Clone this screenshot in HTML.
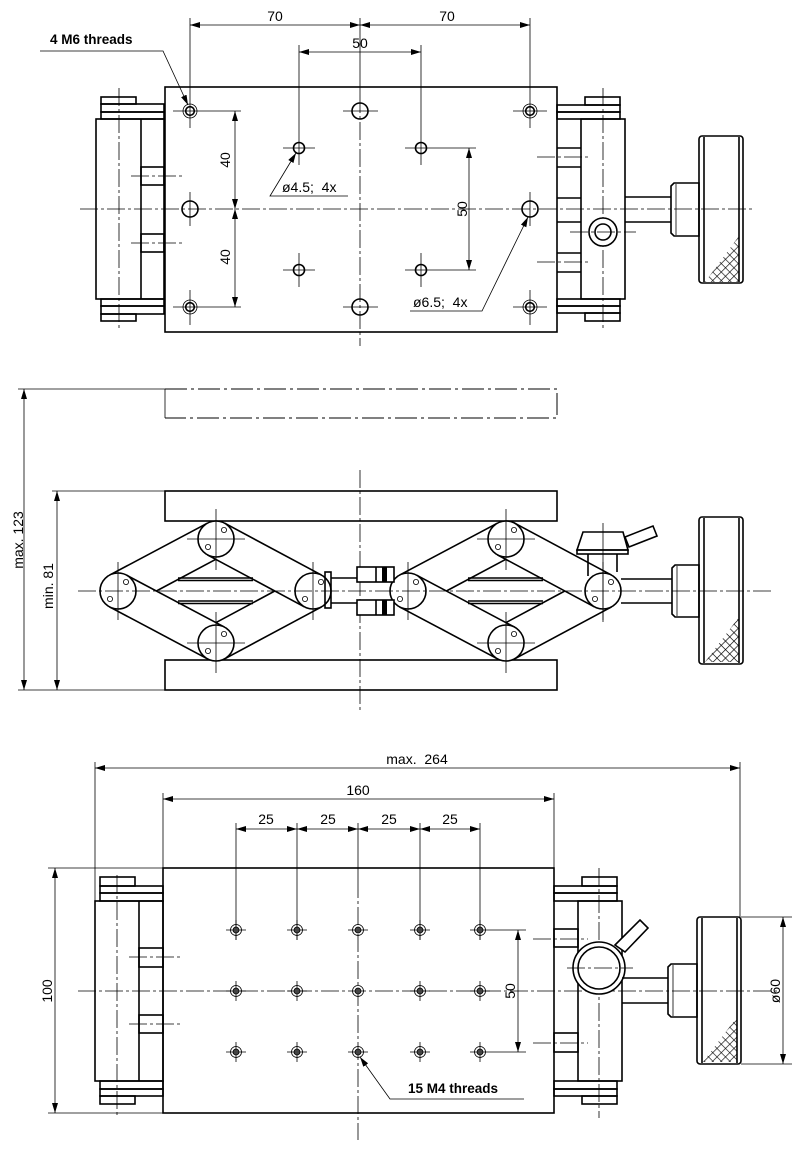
<!DOCTYPE html>
<html><head><meta charset="utf-8"><style>
html,body{margin:0;padding:0;background:#fff;}
svg{display:block;}
.o{stroke:#000;stroke-width:1.6;fill:none;}
.w{stroke:#000;stroke-width:1.6;fill:#fff;}
.t{stroke:#000;stroke-width:0.8;fill:none;}
.c{stroke:#000;stroke-width:0.8;fill:none;stroke-dasharray:18 3 3 3;}
.p{stroke:#000;stroke-width:1;fill:none;stroke-dasharray:22 4 3 4;}
.d{stroke:#000;stroke-width:0.8;fill:none;marker-start:url(#a);marker-end:url(#a);}
.l{stroke:#000;stroke-width:0.8;fill:none;marker-end:url(#a);}
text{font-family:"Liberation Sans",sans-serif;font-size:14px;fill:#000;}
.b{font-weight:bold;font-size:13.5px;}
</style></head><body>
<svg width="800" height="1150" viewBox="0 0 800 1150" xmlns="http://www.w3.org/2000/svg">
<defs>
<marker id="a" viewBox="0 0 10 6" refX="10" refY="3" markerWidth="10" markerHeight="6" markerUnits="userSpaceOnUse" orient="auto-start-reverse"><path d="M0,0L10,3L0,6z" fill="#000"/></marker>
<pattern id="k" width="6" height="6" patternUnits="userSpaceOnUse" patternTransform="rotate(45)"><path d="M0,0V6M0,0H6" stroke="#000" stroke-width="1.3"/></pattern>
<g id="sc">
<line class="o" x1="109.6" y1="575.1" x2="207.6" y2="523.1"/>
<line class="o" x1="224.5" y1="523.1" x2="321.5" y2="575.1"/>
<line class="o" x1="109.6" y1="606.9" x2="207.6" y2="658.9"/>
<line class="o" x1="224.5" y1="658.9" x2="321.5" y2="606.9"/>
<line class="o" x1="126.4" y1="575.1" x2="224.4" y2="627.1"/>
<line class="o" x1="207.5" y1="554.9" x2="304.5" y2="606.9"/>
<line class="o" x1="156.4" y1="591" x2="215.8" y2="559.3"/>
<line class="o" x1="215.8" y1="622.7" x2="274.8" y2="591"/>
<line class="o" x1="178" y1="578" x2="253" y2="578"/>
<line class="o" x1="178" y1="580.5" x2="253" y2="580.5"/>
<line class="o" x1="178" y1="601" x2="253" y2="601"/>
<line class="o" x1="178" y1="603.5" x2="253" y2="603.5"/>
<circle class="w" cx="118" cy="591" r="18"/>
<circle class="w" cx="216" cy="539" r="18"/>
<circle class="w" cx="216" cy="643" r="18"/>
<circle class="w" cx="313" cy="591" r="18"/>
<circle class="t" cx="126" cy="582" r="2.6"/><circle class="t" cx="110" cy="599" r="2.6"/>
<circle class="t" cx="224" cy="530" r="2.6"/><circle class="t" cx="208" cy="547" r="2.6"/>
<circle class="t" cx="224" cy="634" r="2.6"/><circle class="t" cx="208" cy="651" r="2.6"/>
<circle class="t" cx="321" cy="582" r="2.6"/><circle class="t" cx="305" cy="599" r="2.6"/>
<line class="t" x1="118" y1="562" x2="118" y2="620"/>
<line class="t" x1="313" y1="562" x2="313" y2="620"/>
<line class="t" x1="216" y1="509" x2="216" y2="570"/>
<line class="t" x1="187" y1="539" x2="245" y2="539"/>
<line class="t" x1="216" y1="612" x2="216" y2="673"/>
<line class="t" x1="187" y1="643" x2="245" y2="643"/>
</g>
</defs>

<!-- ================= TOP VIEW ================= -->
<rect class="o" x="165" y="87" width="392" height="245"/>
<line class="c" x1="80" y1="209" x2="752" y2="209"/>
<line class="t" x1="360" y1="18" x2="360" y2="95"/>
<line class="c" x1="360" y1="95" x2="360" y2="346"/>
<line class="t" x1="190" y1="18" x2="190" y2="128"/>
<line class="t" x1="530" y1="18" x2="530" y2="128"/>
<line class="t" x1="299" y1="45" x2="299" y2="165"/>
<line class="t" x1="421" y1="45" x2="421" y2="165"/>
<line class="t" x1="190" y1="290" x2="190" y2="325"/>
<line class="t" x1="530" y1="290" x2="530" y2="325"/>
<line class="t" x1="299" y1="253" x2="299" y2="287"/>
<line class="t" x1="421" y1="253" x2="421" y2="287"/>
<line class="t" x1="190" y1="192" x2="190" y2="226"/>
<line class="t" x1="530" y1="192" x2="530" y2="226"/>
<line class="t" x1="173" y1="111" x2="241" y2="111"/>
<line class="t" x1="343" y1="111" x2="378" y2="111"/>
<line class="t" x1="513" y1="111" x2="547" y2="111"/>
<line class="t" x1="173" y1="307" x2="241" y2="307"/>
<line class="t" x1="343" y1="307" x2="378" y2="307"/>
<line class="t" x1="513" y1="307" x2="547" y2="307"/>
<line class="t" x1="283" y1="148" x2="315" y2="148"/>
<line class="t" x1="405" y1="148" x2="476" y2="148"/>
<line class="t" x1="283" y1="270" x2="315" y2="270"/>
<line class="t" x1="405" y1="270" x2="476" y2="270"/>
<circle class="t" cx="190" cy="111" r="7"/><circle class="o" cx="190" cy="111" r="4.3"/>
<circle class="t" cx="530" cy="111" r="7"/><circle class="o" cx="530" cy="111" r="4.3"/>
<circle class="t" cx="190" cy="307" r="7"/><circle class="o" cx="190" cy="307" r="4.3"/>
<circle class="t" cx="530" cy="307" r="7"/><circle class="o" cx="530" cy="307" r="4.3"/>
<circle class="o" cx="360" cy="111" r="8"/>
<circle class="o" cx="360" cy="307" r="8"/>
<circle class="o" cx="190" cy="209" r="8"/>
<circle class="o" cx="530" cy="209" r="8"/>
<circle class="o" cx="299" cy="148" r="5.5"/>
<circle class="o" cx="421" cy="148" r="5.5"/>
<circle class="o" cx="299" cy="270" r="5.5"/>
<circle class="o" cx="421" cy="270" r="5.5"/>
<line class="d" x1="190" y1="25" x2="360" y2="25"/>
<line class="d" x1="360" y1="25" x2="530" y2="25"/>
<line class="d" x1="299" y1="52" x2="421" y2="52"/>
<line class="d" x1="235" y1="111" x2="235" y2="209"/>
<line class="d" x1="235" y1="209" x2="235" y2="307"/>
<line class="d" x1="469" y1="148" x2="469" y2="270"/>
<text x="275" y="21" text-anchor="middle">70</text>
<text x="447" y="21" text-anchor="middle">70</text>
<text x="360" y="48" text-anchor="middle">50</text>
<text transform="translate(230,160) rotate(-90)" text-anchor="middle">40</text>
<text transform="translate(230,257) rotate(-90)" text-anchor="middle">40</text>
<text transform="translate(467,209) rotate(-90)" text-anchor="middle">50</text>
<text class="b" x="50" y="44">4 M6 threads</text>
<polyline class="l" points="40,51 163,51 188,105"/>
<text x="282" y="192" xml:space="preserve">ø4.5;  4x</text>
<polyline class="l" points="348,196 270,196 296,153"/>
<text x="413" y="307" xml:space="preserve">ø6.5;  4x</text>
<polyline class="l" points="410,311 482,311 528,217"/>
<rect class="o" x="101" y="97" width="35" height="7"/>
<rect class="o" x="101" y="104" width="63" height="8"/>
<rect class="o" x="101" y="112" width="63" height="7"/>
<rect class="o" x="96" y="119" width="68" height="180"/>
<line class="o" x1="141" y1="119" x2="141" y2="299"/>
<rect class="o" x="141" y="167" width="23" height="18"/>
<rect class="o" x="141" y="234" width="23" height="18"/>
<rect class="o" x="101" y="299" width="63" height="7"/>
<rect class="o" x="101" y="306" width="63" height="8"/>
<rect class="o" x="101" y="314" width="35" height="7"/>
<line class="c" x1="119" y1="88" x2="119" y2="330"/>
<line class="c" x1="131" y1="176" x2="184" y2="176"/>
<line class="c" x1="131" y1="243" x2="184" y2="243"/>
<rect class="o" x="585" y="97" width="35" height="8"/>
<rect class="o" x="557" y="105" width="63" height="7"/>
<rect class="o" x="557" y="112" width="63" height="7"/>
<rect class="o" x="581" y="119" width="44" height="180"/>
<path class="o" d="M557,148H581M557,167H581M557,198H581M557,222H581M557,253H581M557,272H581"/>
<rect class="o" x="557" y="299" width="63" height="7"/>
<rect class="o" x="557" y="306" width="63" height="7"/>
<rect class="o" x="585" y="313" width="35" height="8"/>
<line class="c" x1="603" y1="88" x2="603" y2="330"/>
<line class="c" x1="537" y1="157" x2="590" y2="157"/>
<line class="c" x1="537" y1="262" x2="590" y2="262"/>
<circle class="w" cx="603" cy="232" r="14"/>
<circle class="o" cx="603" cy="232" r="8"/>
<line class="c" x1="570" y1="232" x2="636" y2="232"/>
<line class="o" x1="625" y1="197" x2="671" y2="197"/>
<line class="o" x1="625" y1="222" x2="671" y2="222"/>
<path class="o" d="M674,183H699V236H674L671,233V186Z"/>
<line class="t" x1="676" y1="184" x2="676" y2="235"/>
<rect class="o" x="699" y="136" width="44" height="147" rx="3"/>
<line class="o" x1="704" y1="137" x2="704" y2="282"/>
<line class="o" x1="739" y1="137" x2="739" y2="282"/>
<polygon points="705,282 739,282 739,236" fill="url(#k)"/>

<!-- ================= SIDE VIEW ================= -->
<line class="t" x1="18" y1="389" x2="165" y2="389"/>
<line class="t" x1="165" y1="389" x2="165" y2="418"/>
<path class="p" d="M165,389H557V418H165"/>
<rect class="o" x="165" y="491" width="392" height="30"/>
<rect class="o" x="165" y="660" width="392" height="30"/>
<line class="t" x1="52" y1="491" x2="165" y2="491"/>
<line class="t" x1="18" y1="690" x2="165" y2="690"/>
<line class="d" x1="24" y1="389" x2="24" y2="690"/>
<line class="d" x1="57" y1="491" x2="57" y2="690"/>
<text transform="translate(23,540) rotate(-90)" text-anchor="middle">max.  123</text>
<text transform="translate(53,586) rotate(-90)" text-anchor="middle">min.  81</text>
<line class="c" x1="360" y1="470" x2="360" y2="712"/>
<use href="#sc"/>
<use href="#sc" transform="translate(290,0)"/>
<rect class="o" x="325" y="572" width="6" height="36"/>
<line class="o" x1="331" y1="578" x2="357" y2="578"/>
<line class="o" x1="331" y1="603" x2="357" y2="603"/>
<rect class="w" x="357" y="567" width="37" height="15"/>
<rect class="w" x="357" y="600" width="37" height="15"/>
<rect x="382" y="567" width="5" height="15" fill="#000"/>
<rect x="382" y="600" width="5" height="15" fill="#000"/>
<line class="o" x1="376" y1="567" x2="376" y2="582"/>
<line class="o" x1="376" y1="600" x2="376" y2="615"/>
<line class="c" x1="78" y1="591" x2="772" y2="591"/>
<path class="o" d="M588,554V576M617,554V572"/>
<path class="w" d="M583,532H623L628,550H577Z"/>
<rect class="o" x="577" y="550" width="51" height="4"/>
<path class="w" d="M625,537L653,526L657,536L629,547Z"/>
<line class="t" x1="603" y1="523" x2="603" y2="622"/>
<line class="o" x1="621" y1="579" x2="672" y2="579"/>
<line class="o" x1="621" y1="603" x2="672" y2="603"/>
<path class="o" d="M675,565H699V617H675L672,614V568Z"/>
<line class="t" x1="677" y1="566" x2="677" y2="616"/>
<rect class="o" x="699" y="517" width="44" height="147" rx="3"/>
<line class="o" x1="704" y1="518" x2="704" y2="663"/>
<line class="o" x1="739" y1="518" x2="739" y2="663"/>
<polygon points="705,662 739,662 739,617" fill="url(#k)"/>

<!-- ================= BOTTOM VIEW ================= -->
<rect class="o" x="163" y="868" width="391" height="245"/>
<line class="c" x1="78" y1="991" x2="780" y2="991"/>
<line class="t" x1="358" y1="823" x2="358" y2="880"/>
<line class="c" x1="358" y1="880" x2="358" y2="1140"/>
<line class="t" x1="95" y1="762" x2="95" y2="901"/>
<line class="t" x1="740" y1="762" x2="740" y2="917"/>
<line class="t" x1="163" y1="793" x2="163" y2="868"/>
<line class="t" x1="554" y1="793" x2="554" y2="868"/>
<line class="t" x1="236" y1="823" x2="236" y2="940"/>
<line class="t" x1="297" y1="823" x2="297" y2="940"/>
<line class="t" x1="420" y1="823" x2="420" y2="940"/>
<line class="t" x1="480" y1="823" x2="480" y2="940"/>
<line class="d" x1="95" y1="768" x2="740" y2="768"/>
<line class="d" x1="163" y1="799" x2="554" y2="799"/>
<line class="d" x1="236" y1="829" x2="297" y2="829"/>
<line class="d" x1="297" y1="829" x2="358" y2="829"/>
<line class="d" x1="358" y1="829" x2="420" y2="829"/>
<line class="d" x1="420" y1="829" x2="480" y2="829"/>
<text x="417" y="764" text-anchor="middle" xml:space="preserve">max.  264</text>
<text x="358" y="795" text-anchor="middle">160</text>
<text x="266" y="824" text-anchor="middle">25</text>
<text x="328" y="824" text-anchor="middle">25</text>
<text x="389" y="824" text-anchor="middle">25</text>
<text x="450" y="824" text-anchor="middle">25</text>
<line class="t" x1="48" y1="868" x2="163" y2="868"/>
<line class="t" x1="48" y1="1113" x2="163" y2="1113"/>
<line class="d" x1="55" y1="868" x2="55" y2="1113"/>
<text transform="translate(52,991) rotate(-90)" text-anchor="middle">100</text>
<g>
<path class="t" d="M226,930H246M236,920V940M287,930H307M297,920V940M348,930H368M410,930H430M420,920V940M470,930H526M480,920V940
M226,991H246M236,981V1001M287,991H307M297,981V1001M410,991H430M420,981V1001M470,991H490M480,981V1001
M226,1052H246M236,1042V1062M287,1052H307M297,1042V1062M348,1052H368M410,1052H430M420,1042V1062M470,1052H526M480,1042V1062"/>
</g>
<g fill="#444" stroke="#000" stroke-width="0.8">
<circle cx="236" cy="930" r="3"/><circle cx="297" cy="930" r="3"/><circle cx="358" cy="930" r="3"/><circle cx="420" cy="930" r="3"/><circle cx="480" cy="930" r="3"/>
<circle cx="236" cy="991" r="3"/><circle cx="297" cy="991" r="3"/><circle cx="358" cy="991" r="3"/><circle cx="420" cy="991" r="3"/><circle cx="480" cy="991" r="3"/>
<circle cx="236" cy="1052" r="3"/><circle cx="297" cy="1052" r="3"/><circle cx="358" cy="1052" r="3"/><circle cx="420" cy="1052" r="3"/><circle cx="480" cy="1052" r="3"/>
</g>
<g class="t">
<circle cx="236" cy="930" r="5.5"/><circle cx="297" cy="930" r="5.5"/><circle cx="358" cy="930" r="5.5"/><circle cx="420" cy="930" r="5.5"/><circle cx="480" cy="930" r="5.5"/>
<circle cx="236" cy="991" r="5.5"/><circle cx="297" cy="991" r="5.5"/><circle cx="358" cy="991" r="5.5"/><circle cx="420" cy="991" r="5.5"/><circle cx="480" cy="991" r="5.5"/>
<circle cx="236" cy="1052" r="5.5"/><circle cx="297" cy="1052" r="5.5"/><circle cx="358" cy="1052" r="5.5"/><circle cx="420" cy="1052" r="5.5"/><circle cx="480" cy="1052" r="5.5"/>
</g>
<line class="d" x1="518" y1="930" x2="518" y2="1052"/>
<text transform="translate(515,991) rotate(-90)" text-anchor="middle">50</text>
<text class="b" x="408" y="1093">15 M4 threads</text>
<polyline class="l" points="524,1099 390,1099 360,1057"/>
<rect class="o" x="100" y="877" width="35" height="9"/>
<rect class="o" x="100" y="886" width="63" height="7"/>
<rect class="o" x="100" y="893" width="63" height="8"/>
<rect class="o" x="95" y="901" width="68" height="180"/>
<line class="o" x1="139" y1="901" x2="139" y2="1081"/>
<rect class="o" x="139" y="948" width="24" height="19"/>
<rect class="o" x="139" y="1015" width="24" height="18"/>
<rect class="o" x="100" y="1081" width="63" height="8"/>
<rect class="o" x="100" y="1089" width="63" height="7"/>
<rect class="o" x="100" y="1096" width="35" height="8"/>
<line class="c" x1="117" y1="875" x2="117" y2="1116"/>
<line class="c" x1="129" y1="957" x2="183" y2="957"/>
<line class="c" x1="129" y1="1024" x2="183" y2="1024"/>
<rect class="o" x="582" y="877" width="35" height="9"/>
<rect class="o" x="554" y="886" width="63" height="7"/>
<rect class="o" x="554" y="893" width="63" height="8"/>
<rect class="o" x="578" y="901" width="44" height="180"/>
<rect class="o" x="554" y="929" width="24" height="18"/>
<rect class="o" x="554" y="1033" width="24" height="19"/>
<rect class="o" x="554" y="1081" width="63" height="8"/>
<rect class="o" x="554" y="1089" width="63" height="7"/>
<rect class="o" x="582" y="1096" width="35" height="8"/>
<line class="c" x1="599" y1="868" x2="599" y2="1118"/>
<line class="c" x1="533" y1="939" x2="588" y2="939"/>
<line class="c" x1="533" y1="1043" x2="588" y2="1043"/>
<path class="w" d="M615,945L640,920L648,928L625,952Z"/>
<circle class="w" cx="599" cy="968" r="26"/>
<circle class="o" cx="599" cy="968" r="21"/>
<line class="c" x1="567" y1="968" x2="633" y2="968"/>
<line class="o" x1="622" y1="978" x2="668" y2="978"/>
<line class="o" x1="622" y1="1003" x2="668" y2="1003"/>
<path class="o" d="M671,964H697V1017H671L668,1014V967Z"/>
<line class="t" x1="673" y1="965" x2="673" y2="1016"/>
<rect class="o" x="697" y="917" width="44" height="147" rx="3"/>
<line class="o" x1="702" y1="918" x2="702" y2="1063"/>
<line class="o" x1="737" y1="918" x2="737" y2="1063"/>
<polygon points="703,1062 737,1062 737,1017" fill="url(#k)"/>
<line class="t" x1="741" y1="917" x2="792" y2="917"/>
<line class="t" x1="741" y1="1064" x2="792" y2="1064"/>
<line class="d" x1="783" y1="917" x2="783" y2="1064"/>
<text transform="translate(780,991) rotate(-90)" text-anchor="middle">ø60</text>
</svg>
</body></html>
